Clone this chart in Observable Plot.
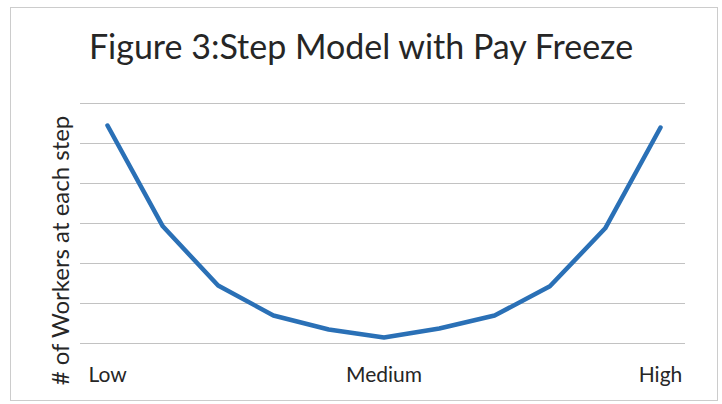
<!DOCTYPE html>
<html>
<head>
<meta charset="utf-8">
<script src="https://cdn.jsdelivr.net/npm/d3@7"></script>
<script src="https://cdn.jsdelivr.net/npm/@observablehq/plot@0.6"></script>
<style>
  html, body { margin: 0; padding: 0; background: #ffffff; }
  #wrap { position: relative; width: 722px; height: 404px; overflow: hidden; background: #fff; }
  #frame { position: absolute; left: 10px; top: 7px; width: 706px; height: 392px; border: 1px solid #cccccc; box-sizing: content-box; pointer-events: none; }
  #title { height: 80px; width: 722px; position: relative; }
  #title span { position: absolute; left: 0; width: 722px; text-align: center; top: 26px; font-family: Lato, "Open Sans", sans-serif; font-size: 34px; line-height: 40px; color: #262626; white-space: nowrap; }
  #chart svg { display: block; }
</style>
</head>
<body>
<div id="wrap">
  <div id="title"><span>Figure 3:Step Model with Pay Freeze</span></div>
  <div id="chart"></div>
  <div id="frame"></div>
</div>
<script>
// Data
const steps = [1, 2, 3, 4, 5, 6, 7, 8, 9, 10, 11];
const workers = [5.45, 2.93, 1.45, 0.7, 0.35, 0.15, 0.375, 0.7, 1.43, 2.88, 5.4];
const tickSteps = [1, 6, 11];
const tickLabels = ["Low", "Medium", "High"];
const gridValues = [0, 1, 2, 3, 4, 5, 6];
const yLabel = "# of Workers at each step";

const data = steps.map((s, i) => ({step: s, workers: workers[i]}));
const labelOf = new Map(tickSteps.map((s, i) => [s, tickLabels[i]]));

const chart = Plot.plot({
  width: 722,
  height: 324,
  marginLeft: 80,
  marginRight: 37,
  marginTop: 23,
  marginBottom: 61,
  style: {fontFamily: "Lato, 'Open Sans', sans-serif", background: "transparent", color: "#262626"},
  x: {type: "linear", domain: [1, 11], insetLeft: 27, insetRight: 25},
  y: {domain: [0, 6], axis: null},
  marks: [
    Plot.ruleY(gridValues, {stroke: "#c2c2c2", strokeWidth: 1}),
    Plot.axisX(tickSteps, {
      tickSize: 0, tickPadding: 24, fontSize: 21, label: null,
      tickFormat: d => labelOf.get(d), fill: "#262626"
    }),
    Plot.text([yLabel], {
      frameAnchor: "left", rotate: -90, dx: -12, dy: 27,
      fontSize: 24, textAnchor: "middle", lineAnchor: "bottom", fill: "#262626"
    }),
    Plot.line(data, {
      x: "step", y: "workers", stroke: "#2a70b6", strokeWidth: 4.5,
      strokeLinejoin: "round", strokeLinecap: "round"
    })
  ]
});
document.getElementById("chart").appendChild(chart);
</script>
</body>
</html>
